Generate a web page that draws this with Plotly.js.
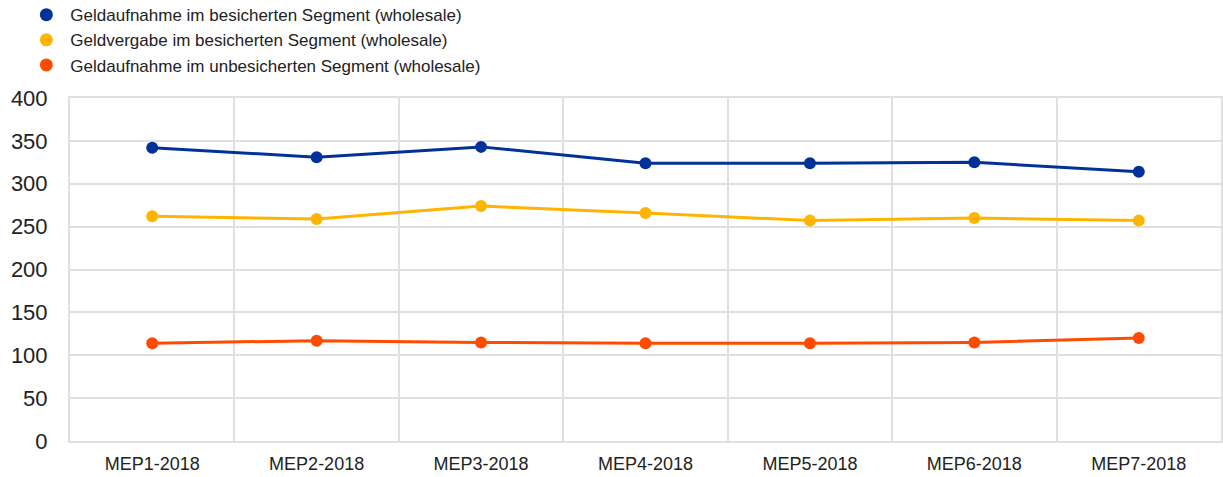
<!DOCTYPE html>
<html>
<head>
<meta charset="utf-8">
<script src="https://cdn.plot.ly/plotly-3.0.1.min.js"></script>
<style>html,body{margin:0;padding:0;background:#fff;}#chart{width:1223px;height:477px;}</style>
</head>
<body>
<div id="chart"></div>
<script>
const categories = ["MEP1-2018","MEP2-2018","MEP3-2018","MEP4-2018","MEP5-2018","MEP6-2018","MEP7-2018"];
const seriesNames = [
  "Geldaufnahme im besicherten Segment (wholesale)",
  "Geldvergabe im besicherten Segment (wholesale)",
  "Geldaufnahme im unbesicherten Segment (wholesale)"
];
const securedBorrowing = [342, 331, 343, 324, 324, 325, 314];
const securedLending   = [262, 259, 274, 266, 257, 260, 257];
const unsecuredBorrowing = [114, 117, 115, 114, 114, 115, 120];
const colors = ["#003299", "#FFB400", "#FF4B00"];
const yTicks = [0, 50, 100, 150, 200, 250, 300, 350, 400];

const allSeries = [securedBorrowing, securedLending, unsecuredBorrowing];
const traces = [];
allSeries.forEach((vals, i) => {
  traces.push({
    type: "scatter", mode: "lines+markers",
    x: categories, y: vals, name: seriesNames[i],
    line: {color: colors[i], width: 3},
    marker: {color: colors[i], size: 12},
    showlegend: false, hoverinfo: "x+y"
  });
});
allSeries.forEach((vals, i) => {
  traces.push({
    type: "scatter", mode: "markers",
    x: [categories[0]], y: [null], name: seriesNames[i],
    marker: {color: colors[i], size: 13},
    showlegend: true
  });
});

const layout = {
  width: 1223, height: 477,
  margin: {l: 70, r: 2, t: 98, b: 36, pad: 0, autoexpand: false},
  paper_bgcolor: "#ffffff", plot_bgcolor: "#ffffff",
  font: {family: "Liberation Sans, Arial, sans-serif", color: "#222222"},
  showlegend: true,
  legend: {
    x: -0.0414, xanchor: "left", y: 1.294, yanchor: "top",
    orientation: "v", font: {size: 17, color: "#222222"},
    itemwidth: 38, bgcolor: "rgba(0,0,0,0)", tracegroupgap: 0
  },
  xaxis: {
    type: "category", categoryorder: "array", categoryarray: categories,
    tickson: "boundaries", showgrid: true, gridcolor: "#e0e0e0", gridwidth: 2,
    showline: true, linecolor: "#e0e0e0", linewidth: 2, mirror: true,
    ticks: "", ticklabelstandoff: 5,
    tickfont: {size: 18, color: "#222222"}, zeroline: false,
    range: [-0.5, 6.5], fixedrange: true
  },
  yaxis: {
    range: [0, 400], tickvals: yTicks, ticktext: yTicks.map(String),
    showgrid: true, gridcolor: "#e0e0e0", gridwidth: 2,
    showline: true, linecolor: "#e0e0e0", linewidth: 2, mirror: true,
    ticks: "", ticklabelstandoff: 16,
    tickfont: {size: 22, color: "#222222"}, zeroline: false, fixedrange: true
  }
};
Plotly.newPlot("chart", traces, layout, {displayModeBar: false, staticPlot: true});
</script>
</body>
</html>
